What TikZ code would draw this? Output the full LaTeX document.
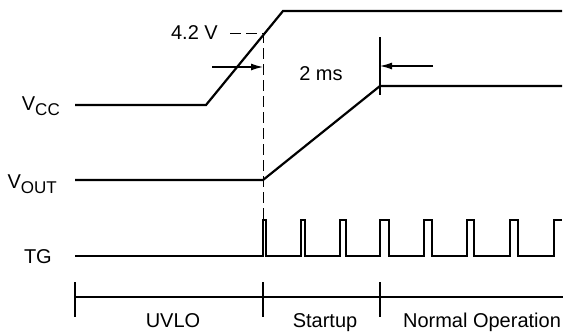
\documentclass[tikz,border=0pt]{standalone}
\usepackage{fontspec}
\setmainfont{Liberation Sans}
\usetikzlibrary{arrows.meta}
\newcommand{\subtxt}[1]{\raisebox{-5pt}{\fontsize{17}{17}\selectfont #1}}

\begin{document}
\begin{tikzpicture}[x = 1pt, y = -1pt, font = \fontsize{20}{24}\selectfont]%
    %
    \tikzstyle{signal} = [draw = black, line width = 2.2pt, line join = miter]%
    \tikzstyle{pulse} = [draw = black, line width = 1.7pt]%
    \tikzstyle{thin} = [draw = black, line width = 1.2pt]%
    \tikzstyle{guide} = [draw = black, line width = 1pt, dash pattern = on 11pt off 5pt]%
    \tikzstyle{arrow} = [->, >={Latex[length = 12pt, width = 7pt]}, draw = black, line width = 1.2pt]%
    \tikzstyle{axis} = [draw = black, line width = 1.8pt]%
    \tikzstyle{label} = [inner sep = 0pt, text = black]%
    %
    \useasboundingbox (0,0) rectangle (571,335);%
    %
    \node [label, anchor = base east] (vcc-label) at (60,110) {V\subtxt{CC}};%
    \node [label, anchor = base east] (vout-label) at (57,188) {V\subtxt{OUT}};%
    \node [label, anchor = base east] (tg-label) at (52,263) {TG};%
    %
    % supply rises through 4.2 V
    \coordinate (vcc-start) at (75,105);%
    \coordinate (vcc-rise) at (206,105);%
    \coordinate (vcc-top) at (283,11);%
    \coordinate (vcc-end) at (562,11);%
    \path [signal] (vcc-start) -- (vcc-rise) -- (vcc-top) -- (vcc-end);%
    %
    % output soft start
    \coordinate (vout-start) at (75,180);%
    \coordinate (vout-rise) at (263,180);%
    \coordinate (vout-top) at (380,86);%
    \coordinate (vout-end) at (562,86);%
    \path [signal] (vout-start) -- (vout-rise) -- (vout-top) -- (vout-end);%
    %
    % gate pulses
    \path [pulse] (75,256) foreach \a/\b in {263/266, 301/305, 340/346, 380/389, 424/432, 467/474, 510/518} { -- (\a,256) -- (\a,220) -- (\b,220) -- (\b,256) } -- (554,256) -- (554,220) -- (562,220);%
    %
    % threshold
    \node [label, anchor = east] (threshold) at (218,33) {4.2 V};%
    \coordinate (uvlo-end) at (263,33);%
    \path [guide] (230,33) -- (uvlo-end) -- (263,220);%
    %
    % soft start time
    \coordinate (ss-end) at (380,37);%
    \path [thin] (ss-end) -- (380,95);%
    \path [arrow] (212,67) -- (263,67);%
    \path [arrow] (433,66) -- (380,66);%
    \node [label] (ss-time) at (321,74) {2 ms};%
    %
    % phases
    \path [axis] (75,297) -- (563,297);%
    \foreach \x in {75, 263, 380} {%
        \path [thin, line width = 1.6pt] (\x,282) -- (\x,317);%
    }%
    \node [label, anchor = base] (uvlo) at (173,327) {UVLO};%
    \node [label, anchor = base] (startup) at (325,327) {Startup};%
    \node [label, anchor = base] (normal) at (482,327) {Normal Operation};%
    %
\end{tikzpicture}
\end{document}
